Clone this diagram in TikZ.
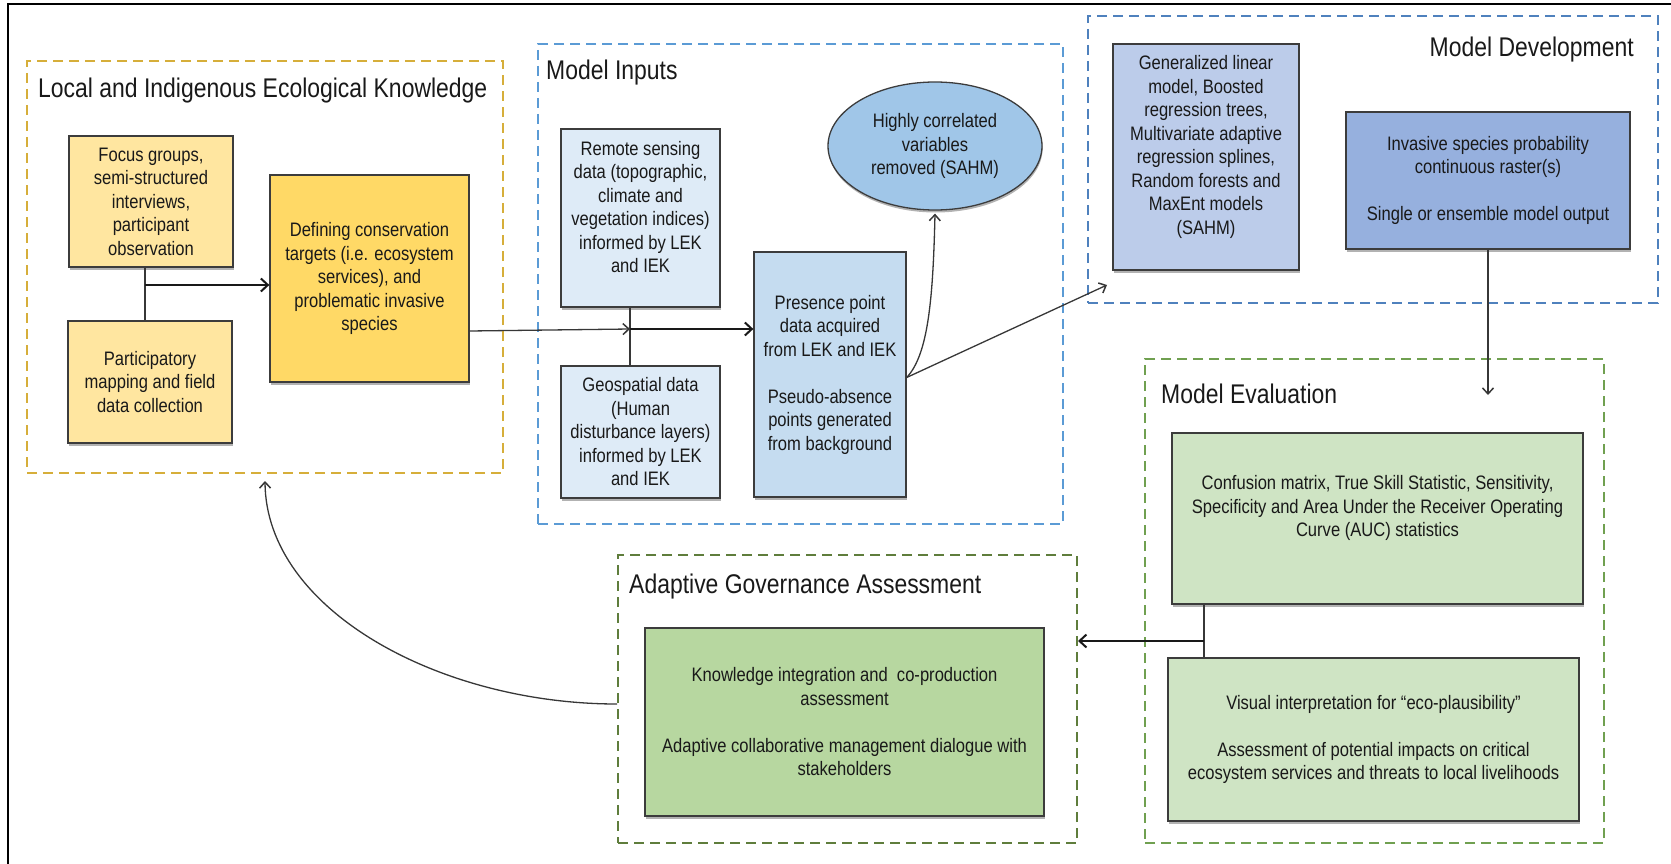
\documentclass[tikz,border=0pt]{standalone}
\usepackage{fontspec}
\setmainfont{Liberation Sans}[FakeStretch=0.85]
\usetikzlibrary{arrows.meta,shapes.geometric,shadows,calc}
\definecolor{liekc}{RGB}{214,174,58}
\definecolor{mic}{RGB}{91,155,213}
\definecolor{mdc}{RGB}{79,129,189}
\definecolor{mec}{RGB}{112,160,80}
\definecolor{agac}{RGB}{95,125,60}
\definecolor{yl1}{RGB}{255,230,160}
\definecolor{yl2}{RGB}{255,217,102}
\definecolor{bl1}{RGB}{222,235,247}
\definecolor{bl2}{RGB}{197,220,240}
\definecolor{bl3}{RGB}{160,198,232}
\definecolor{bl4}{RGB}{188,204,234}
\definecolor{bl5}{RGB}{150,176,222}
\definecolor{gr1}{RGB}{207,228,196}
\definecolor{gr2}{RGB}{183,215,160}
\definecolor{boxline}{RGB}{60,60,60}
\definecolor{txt}{RGB}{25,25,25}
\definecolor{conn}{RGB}{55,55,55}
\newcommand\boxfont{\fontsize{19.5}{23.5}\selectfont}
\newcommand\titlefont{\fontsize{27}{32}\selectfont}
\begin{document}
\begin{tikzpicture}[x=1pt,y=-1pt,
  group/.style={draw, line width=2pt, dash pattern=on 10pt off 6pt, inner sep=0pt},
  grouptitle/.style={font=\titlefont, text=txt, inner sep=0pt},
  box/.style={draw=boxline, line width=1.3pt, inner sep=0pt, align=center, font=\boxfont, text=txt,
    drop shadow={shadow xshift=0.6pt, shadow yshift=-2.5pt, opacity=0.3, fill=black}},
  boxtext/.style={align=center, font=\boxfont, text=txt, inner sep=0pt},
  thinc/.style={draw=conn, line width=1.3pt},
  thickc/.style={draw=black!90, line width=2.2pt},
  arrthin/.style={thinc, -{Straight Barb[length=6pt,width=11pt,line width=1.5pt]}},
  arrthick/.style={thickc, -{Straight Barb[length=7pt,width=13pt,line width=2pt]}}
]
\useasboundingbox (0,0) rectangle (1671,864);
% outer frame (top and left edges visible)
\draw[line width=2pt, black] (8,864) -- (8,4) -- (1671,4);

% groups
\node[group, draw=liekc, minimum width=476pt, minimum height=412pt] (liek) at (265,267) {};
\node[group, draw=mic, minimum width=525pt, minimum height=480pt] (mi) at (800.5,284) {};
\node[group, draw=mdc, minimum width=570pt, minimum height=287pt] (md) at (1373,159.5) {};
\node[group, draw=mec, minimum width=459pt, minimum height=484pt] (me) at (1374.5,601) {};
\node[group, draw=agac, minimum width=459pt, minimum height=288pt] (aga) at (847.5,699) {};

% titles
\node[grouptitle, anchor=base west] (liekT) at (38,98) {Local and Indigenous Ecological Knowledge};
\node[grouptitle, anchor=base west] (miT) at (546,80) {Model Inputs};
\node[grouptitle, anchor=base east] (mdT) at (1634,57) {Model Development};
\node[grouptitle, anchor=base west] (meT) at (1161,403) {Model Evaluation};
\node[grouptitle, anchor=base west] (agaT) at (629,593) {Adaptive Governance Assessment};

% LIEK boxes
\node[box, fill=yl1, minimum width=164pt, minimum height=131pt] (focus) at (151,201.5)
  {Focus groups,\\semi-structured\\interviews,\\participant\\observation};
\node[box, fill=yl1, minimum width=164pt, minimum height=122pt] (part) at (150,382)
  {Participatory\\mapping and field\\data collection};
\node[box, fill=yl2, minimum width=199pt, minimum height=207pt] (def) at (369.5,278.5)
  {Defining conservation\\targets (i.e. ecosystem\\services), and\\problematic invasive\\species};

% Model inputs boxes
\node[box, fill=bl1, minimum width=159pt, minimum height=178pt] (rem) at (640.5,218) {};
\node[boxtext] (remT) at ([yshift=11pt]rem.center)
  {Remote sensing\\data (topographic,\\climate and\\vegetation indices)\\informed by LEK\\and IEK};
\node[box, fill=bl1, minimum width=159pt, minimum height=132pt] (geo) at (640.5,432)
  {Geospatial data\\(Human\\disturbance layers)\\informed by LEK\\and IEK};
\node[box, fill=bl2, minimum width=152pt, minimum height=245pt] (pres) at (830,374.5)
  {Presence point\\data acquired\\from LEK and IEK\\[23.5pt]Pseudo-absence\\points generated\\from background};
\node[box, ellipse, fill=bl3, minimum width=214pt, minimum height=128pt] (ell) at (935,146)
  {Highly correlated\\variables\\removed (SAHM)};

% Model development boxes
\node[box, fill=bl4, minimum width=186pt, minimum height=226pt] (glm) at (1206,157) {};
\node[boxtext] (glmT) at ([yshift=10pt]glm.center)
  {Generalized linear\\model, Boosted\\regression trees,\\Multivariate adaptive\\regression splines,\\Random forests and\\MaxEnt models\\(SAHM)};
\node[box, fill=bl5, minimum width=284pt, minimum height=137pt] (inv) at (1488,180.5)
  {Invasive species probability\\continuous raster(s)\\[23.5pt]Single or ensemble model output};

% Model evaluation boxes
\node[box, fill=gr1, minimum width=411pt, minimum height=171pt] (conf) at (1377.5,518.5) {};
\node[boxtext] (confT) at ([yshift=10.5pt]conf.center)
  {Confusion matrix, True Skill Statistic, Sensitivity,\\Specificity and Area Under the Receiver Operating\\Curve (AUC) statistics};
\node[box, fill=gr1, minimum width=411pt, minimum height=163pt] (vis) at (1373.5,739.5)
  {Visual interpretation for “eco-plausibility”\\[23.5pt]Assessment of potential impacts on critical\\ecosystem services and threats to local livelihoods};

% Adaptive governance box
\node[box, fill=gr2, minimum width=399pt, minimum height=188pt] (know) at (844.5,722)
  {Knowledge integration and\ \ co-production\\assessment\\[23.5pt]Adaptive collaborative management dialogue with\\stakeholders};

% connectors
\coordinate (j1) at (145,285);
\draw[thinc] (focus.south -| j1) -- (part.north -| j1);
\draw[arrthick] (j1) -- (def.west |- j1);

\coordinate (j2) at (630,329);
\draw[thinc] (rem.south -| j2) -- (geo.north -| j2);
\draw[arrthin] ($(def.east)+(0,52.5)$) -- (j2);
\draw[arrthick] (j2) -- (pres.west |- j2);

\coordinate (p1) at ($(pres.east)+(0,3)$);
\draw[arrthin] (p1) .. controls (928,355) and (933,300) .. ([yshift=-3pt]ell.south);
\coordinate (mdin) at (1107,285);
\draw[arrthin] (p1) -- (mdin);

\coordinate (mein) at (1487,395);
\draw[arrthin] (inv.south) -- (inv.south |- mein);

\coordinate (j3) at (1204,641);
\draw[thinc] (conf.south -| j3) -- (vis.north -| j3);
\draw[arrthick] (j3) -- (aga.east |- j3);

\draw[arrthin] ($(aga.west)+(0,5)$) .. controls (440,704) and (266,610) .. ([yshift=-7pt]liek.south);
\end{tikzpicture}
\end{document}
